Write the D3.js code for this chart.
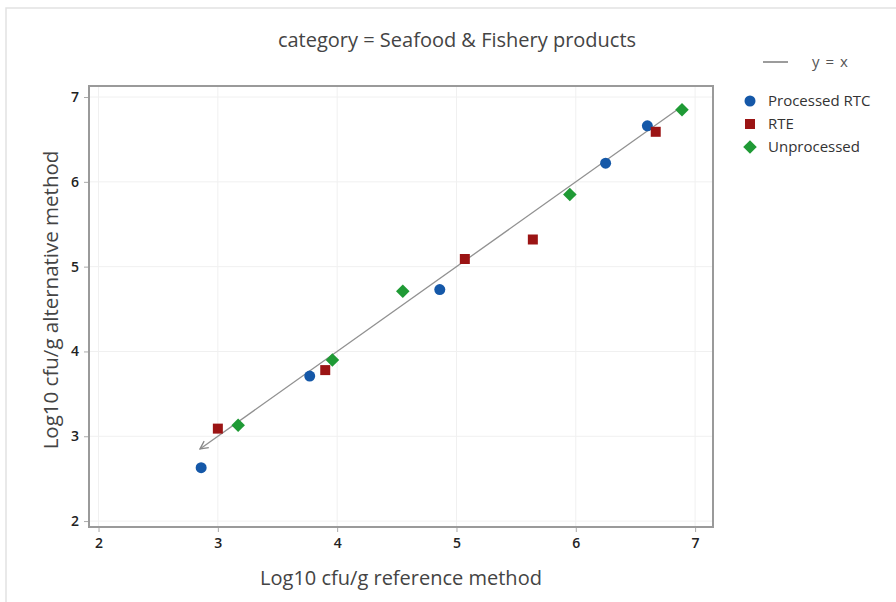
<!DOCTYPE html>
<html>
<head>
<meta charset="utf-8">
<script src="https://cdn.jsdelivr.net/npm/d3@7"></script>
<style>
  html, body { margin: 0; padding: 0; background: #fff; }
  svg { display: block; font-family: "Open Sans", "Noto Sans", sans-serif; }
</style>
</head>
<body>
<svg id="chart" width="896" height="602"></svg>
<script>
// Log10 cfu/g counts: reference method (x) vs alternative method (y)
const categories = ["Processed RTC", "RTE", "Unprocessed"];
const processedRTC = [[2.86, 2.63], [3.77, 3.71], [4.86, 4.73], [6.25, 6.22], [6.60, 6.66]];
const rte = [[3.00, 3.09], [3.90, 3.78], [5.07, 5.09], [5.64, 5.32], [6.67, 6.59]];
const unprocessed = [[3.17, 3.13], [3.96, 3.90], [4.55, 4.71], [5.95, 5.85], [6.89, 6.85]];
const identityLine = [[6.9, 6.9], [2.85, 2.85]];
const xTicks = [2, 3, 4, 5, 6, 7];
const yTicks = [2, 3, 4, 5, 6, 7];
const colors = ["#1558a8", "#9b1414", "#1f9a35"];
// circle, square, and a square turned 45 degrees for the diamond
const shapes = [d3.symbolCircle, d3.symbolSquare, d3.symbolSquare];
const rotations = [0, 0, 45];
const sizes = [95, 100, 92];

const svg = d3.select("#chart");

// faint outer border
svg.append("path").attr("d", "M6,602 L6,8 L896,8")
  .attr("fill", "none").attr("stroke", "#e2e2e2").attr("stroke-width", 1.5);

const plotL = 89, plotR = 713, plotT = 86, plotB = 527;
const x = d3.scaleLinear().domain([1.92, 7.15]).range([plotL, plotR]);
const y = d3.scaleLinear().domain([1.93, 7.13]).range([plotB, plotT]);

// grid
const grid = svg.append("g");
grid.selectAll("line.gx").data(xTicks).join("line").attr("class", "gx")
  .attr("x1", d => x(d)).attr("x2", d => x(d)).attr("y1", plotT).attr("y2", plotB)
  .attr("stroke", "#f0f0f0").attr("stroke-width", 1);
grid.selectAll("line.gy").data(yTicks).join("line").attr("class", "gy")
  .attr("y1", d => y(d)).attr("y2", d => y(d)).attr("x1", plotL).attr("x2", plotR)
  .attr("stroke", "#f0f0f0").attr("stroke-width", 1);

// axes
const xAxis = svg.append("g").attr("transform", `translate(0,${plotB})`)
  .call(d3.axisBottom(x).tickValues(xTicks).tickSize(5).tickPadding(6).tickFormat(d3.format("d")));
const yAxis = svg.append("g").attr("transform", `translate(${plotL},0)`)
  .call(d3.axisLeft(y).tickValues(yTicks).tickSize(5).tickPadding(5).tickFormat(d3.format("d")));
[xAxis, yAxis].forEach(a => {
  a.select(".domain").remove();
  a.selectAll(".tick line").attr("stroke", "#aaa");
  a.selectAll(".tick text").attr("fill", "#222").attr("font-size", 14).attr("font-weight", 600)
    .attr("font-family", "\"Open Sans\", sans-serif");
});

// plot frame
svg.append("rect").attr("x", plotL).attr("y", plotT).attr("width", plotR - plotL).attr("height", plotB - plotT)
  .attr("fill", "none").attr("stroke", "#9a9a9a").attr("stroke-width", 2);

// y = x reference line with arrowhead at the low end
svg.append("defs").append("marker")
  .attr("id", "arrow").attr("viewBox", "0 0 10 10").attr("refX", 9).attr("refY", 5)
  .attr("markerWidth", 10).attr("markerHeight", 10).attr("markerUnits", "userSpaceOnUse")
  .attr("orient", "auto")
  .append("path").attr("d", "M1,1 L9,5 L1,9").attr("fill", "none")
  .attr("stroke", "#888").attr("stroke-width", 1.3);
svg.append("path")
  .attr("d", d3.line().x(d => x(d[0])).y(d => y(d[1]))(identityLine))
  .attr("fill", "none").attr("stroke", "#919191").attr("stroke-width", 1.3)
  .attr("marker-end", "url(#arrow)");

// points
const seriesData = [processedRTC, rte, unprocessed];
seriesData.forEach((pts, i) => {
  svg.append("g").selectAll("path").data(pts).join("path")
    .attr("transform", d => `translate(${x(d[0])},${y(d[1])}) rotate(${rotations[i]})`)
    .attr("d", d3.symbol().type(shapes[i]).size(sizes[i]))
    .attr("fill", colors[i]);
});

// title and axis labels
svg.append("text").attr("x", 457).attr("y", 47).attr("text-anchor", "middle")
  .attr("font-size", 20).attr("fill", "#444").text("category = Seafood & Fishery products");
svg.append("text").attr("x", 401).attr("y", 585).attr("text-anchor", "middle")
  .attr("font-size", 20).attr("fill", "#444").text("Log10 cfu/g reference method");
svg.append("text").attr("transform", "translate(58,300) rotate(-90)").attr("text-anchor", "middle")
  .attr("font-size", 20.5).attr("fill", "#444").text("Log10 cfu/g alternative method");

// legend
const lg = svg.append("g");
lg.append("line").attr("x1", 763).attr("x2", 788).attr("y1", 62).attr("y2", 62)
  .attr("stroke", "#666").attr("stroke-width", 1.3);
lg.append("text").attr("x", 812).attr("y", 67).attr("font-size", 15).attr("fill", "#555")
  .attr("word-spacing", 2).text("y = x");
categories.forEach((c, i) => {
  const cy = 101 + i * 23;
  lg.append("path").attr("transform", `translate(750,${cy}) rotate(${rotations[i]})`)
    .attr("d", d3.symbol().type(shapes[i]).size(sizes[i])).attr("fill", colors[i]);
  lg.append("text").attr("x", 768).attr("y", cy + 5).attr("font-size", 15).attr("fill", "#333").text(c);
});
</script>
</body>
</html>
